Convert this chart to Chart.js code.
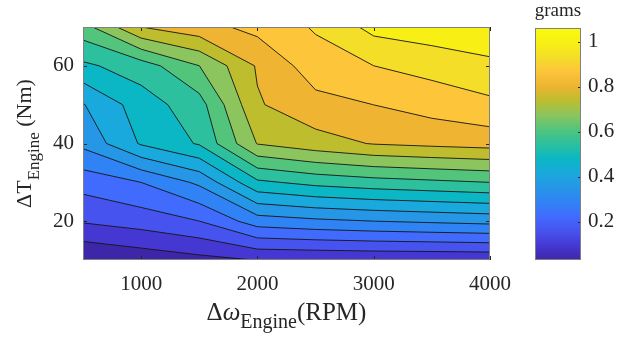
<!DOCTYPE html>
<html>
<head>
<meta charset="utf-8">
<script src="https://cdn.jsdelivr.net/npm/chart.js@4.4.1/dist/chart.umd.min.js"></script>
<style>
html,body{margin:0;padding:0;background:#fff;}
#wrap{position:relative;width:618px;height:339px;}
#main{position:absolute;left:0;top:0;}
#cbar{position:absolute;left:500px;top:0;}
</style>
</head>
<body>
<div id="wrap">
<canvas id="main" width="618" height="339"></canvas>
<canvas id="cbar" width="118" height="339"></canvas>
</div>
<script>
// grid of the measured map
const rpm = [500, 1000, 1500, 2000, 2500, 3000, 3500, 4000];
const torque = [10, 20, 30, 40, 50, 60, 70];
// grams, one row per torque value (10 Nm first), one column per rpm
const grams = [
  [0.031, 0.054, 0.076, 0.097, 0.099, 0.102, 0.103, 0.105],
  [0.166, 0.189, 0.224, 0.321, 0.340, 0.353, 0.363, 0.373],
  [0.250, 0.289, 0.366, 0.534, 0.566, 0.585, 0.598, 0.611],
  [0.369, 0.489, 0.553, 0.743, 0.779, 0.808, 0.820, 0.830],
  [0.414, 0.514, 0.585, 0.798, 0.847, 0.869, 0.895, 0.920],
  [0.534, 0.579, 0.675, 0.811, 0.904, 0.933, 0.956, 0.978],
  [0.650, 0.804, 0.846, 0.888, 0.940, 1.017, 1.036, 1.062]
];
const xTicks = [1000, 2000, 3000, 4000];
const yTicks = [20, 40, 60];
const cbTicks = [0.2, 0.4, 0.6, 0.8, 1];
const nLevels = 15;

// parula-like colours, one per filled band (lower level of the band), last one = top of the colorbar
const parula = ['#3e26a8','#4538d2','#4753ef','#416bfc','#3083f5','#2696e7','#19a9dc','#0bb7c4',
                '#2cc09e','#52c47c','#8cc55e','#bdbd2e','#eeb432','#fcc53a','#f4de28','#f8f014','#f9fb0e'];

const zmin = Math.min(...grams.flat());
const zmax = Math.max(...grams.flat());
const levels = [];
for(let k=1;k<=nLevels;k++) levels.push(zmin + k*(zmax-zmin)/(nLevels+1));

const serif = '"Liberation Serif", "Times New Roman", serif';
const textCol = '#262626';

function clipPoly(poly, L){
  const out=[];
  for(let i=0;i<poly.length;i++){
    const a=poly[i], b=poly[(i+1)%poly.length];
    const ain=a.v>=L, bin=b.v>=L;
    if(ain) out.push(a);
    if(ain!==bin){
      const t=(L-a.v)/(b.v-a.v);
      out.push({x:a.x+t*(b.x-a.x), y:a.y+t*(b.y-a.y), v:L, cut:true});
    }
  }
  return out;
}

const contourPlugin = {
  id:'contourf',
  beforeDatasetsDraw(chart){
    const {ctx, chartArea:a, scales:{x, y}} = chart;
    const P=(i,j)=>({x:rpm[i], y:torque[j], v:grams[j][i]});
    ctx.save();
    ctx.beginPath(); ctx.rect(a.left, a.top, a.right-a.left, a.bottom-a.top); ctx.clip();
    const x0=x.getPixelForValue(rpm[0]), x1=x.getPixelForValue(rpm[rpm.length-1]);
    const y0=y.getPixelForValue(torque[torque.length-1]), y1=y.getPixelForValue(torque[0]);
    ctx.fillStyle=parula[0];
    ctx.fillRect(x0, y0, x1-x0, y1-y0);
    const segs=[];
    levels.forEach((L,k)=>{
      ctx.beginPath();
      for(let j=0;j<torque.length-1;j++){
        for(let i=0;i<rpm.length-1;i++){
          const poly=clipPoly([P(i,j),P(i+1,j),P(i+1,j+1),P(i,j+1)], L);
          if(poly.length<3) continue;
          poly.forEach((p,n)=>{
            const px=x.getPixelForValue(p.x), py=y.getPixelForValue(p.y);
            if(n) ctx.lineTo(px,py); else ctx.moveTo(px,py);
            const q=poly[(n+1)%poly.length];
            if(p.cut && q.cut) segs.push([p,q]);
          });
          ctx.closePath();
        }
      }
      ctx.fillStyle=parula[k+1];
      ctx.fill();
    });
    ctx.beginPath();
    segs.forEach(([p,q])=>{
      ctx.moveTo(x.getPixelForValue(p.x), y.getPixelForValue(p.y));
      ctx.lineTo(x.getPixelForValue(q.x), y.getPixelForValue(q.y));
    });
    ctx.strokeStyle='#151515';
    ctx.lineWidth=0.9;
    ctx.lineJoin='round';
    ctx.stroke();
    ctx.restore();
  }
};

function drawParts(ctx, parts){
  let w=0;
  parts.forEach(p=>{ctx.font=p.f; p.w=ctx.measureText(p.t).width; w+=p.w;});
  let cx=-w/2;
  ctx.textBaseline='alphabetic'; ctx.textAlign='left'; ctx.fillStyle=textCol;
  parts.forEach(p=>{ctx.font=p.f; ctx.fillText(p.t, cx, p.dy); cx+=p.w;});
}

const frameMain = {
  id:'frameMain',
  afterDraw(chart){
    const {ctx, chartArea:a, scales:{x, y}} = chart;
    ctx.save();
    ctx.strokeStyle='#262626'; ctx.lineWidth=1;
    ctx.beginPath();
    xTicks.forEach(v=>{
      const px=Math.round(x.getPixelForValue(v))+0.5;
      ctx.moveTo(px,a.bottom); ctx.lineTo(px,a.bottom-4);
      ctx.moveTo(px,a.top); ctx.lineTo(px,a.top+4);
    });
    yTicks.forEach(v=>{
      const py=Math.round(y.getPixelForValue(v))+0.5;
      ctx.moveTo(a.left,py); ctx.lineTo(a.left+4,py);
      ctx.moveTo(a.right,py); ctx.lineTo(a.right-4,py);
    });
    ctx.stroke();
    ctx.strokeStyle='#808080';
    ctx.strokeRect(a.left+0.5, a.top+0.5, a.right-a.left-1, a.bottom-a.top-1);
    // x title
    ctx.save();
    ctx.translate((a.left+a.right)/2, 320);
    drawParts(ctx,[
      {t:'\u0394', f:'25px '+serif, dy:0},
      {t:'\u03c9', f:'italic 25px '+serif, dy:0},
      {t:'Engine', f:'20px '+serif, dy:8},
      {t:'(RPM)', f:'25px '+serif, dy:0}
    ]);
    ctx.restore();
    // y title
    ctx.save();
    ctx.translate(31, (a.top+a.bottom)/2);
    ctx.rotate(-Math.PI/2);
    drawParts(ctx,[
      {t:'\u0394T', f:'22px '+serif, dy:0},
      {t:'Engine', f:'17px '+serif, dy:8},
      {t:' (Nm)', f:'22px '+serif, dy:0}
    ]);
    ctx.restore();
    ctx.restore();
  }
};

new Chart(document.getElementById('main'), {
  type:'scatter',
  data:{datasets:[{data:[], pointRadius:0}]},
  options:{
    responsive:false, animation:false, events:[],
    layout:{padding:{left:0, right:128, top:27, bottom:0}},
    plugins:{legend:{display:false}, tooltip:{enabled:false}},
    scales:{
      x:{type:'linear', min:rpm[0], max:rpm[rpm.length-1],
         grid:{display:false, drawTicks:false}, border:{display:false},
         afterBuildTicks:s=>{s.ticks=xTicks.map(v=>({value:v}));},
         afterFit:s=>{s.height=79;},
         ticks:{font:{family:serif, size:21}, color:textCol, padding:12, maxRotation:0, autoSkip:false,
                callback:v=>String(v)}},
      y:{type:'linear', min:torque[0], max:torque[torque.length-1],
         grid:{display:false, drawTicks:false}, border:{display:false},
         afterBuildTicks:s=>{s.ticks=yTicks.map(v=>({value:v}));},
         afterFit:s=>{s.width=83;},
         ticks:{font:{family:serif, size:21}, color:textCol, padding:9, callback:v=>String(v)}}
    }
  },
  plugins:[contourPlugin, frameMain]
});

// colorbar
function barGradient(chart){
  const a=chart.chartArea, y=chart.scales.y;
  if(!a || !y) return parula[8];
  const g=chart.ctx.createLinearGradient(0, y.getPixelForValue(zmax), 0, y.getPixelForValue(zmin));
  parula.forEach((c,k)=>g.addColorStop(1-k/(parula.length-1), c));
  return g;
}

const frameBar = {
  id:'frameBar',
  afterDraw(chart){
    const {ctx, chartArea:a, scales:{y}} = chart;
    ctx.save();
    ctx.strokeStyle='#262626'; ctx.lineWidth=1;
    ctx.beginPath();
    cbTicks.forEach(v=>{
      const py=Math.round(y.getPixelForValue(v))+0.5;
      ctx.moveTo(a.right,py); ctx.lineTo(a.right-3,py);
    });
    ctx.stroke();
    ctx.strokeStyle='#808080';
    ctx.strokeRect(a.left+0.5, a.top+0.5, a.right-a.left-1, a.bottom-a.top-1);
    ctx.fillStyle=textCol; ctx.font='19px '+serif;
    ctx.textAlign='center'; ctx.textBaseline='alphabetic';
    ctx.fillText('grams', (a.left+a.right)/2, 16);
    ctx.restore();
  }
};

new Chart(document.getElementById('cbar'), {
  type:'bar',
  data:{labels:['grams'], datasets:[{data:[[zmin, zmax]], backgroundColor:c=>barGradient(c.chart),
        borderWidth:0, barPercentage:1, categoryPercentage:1}]},
  options:{
    responsive:false, animation:false, events:[],
    layout:{padding:{left:35, right:0, top:28, bottom:79}},
    plugins:{legend:{display:false}, tooltip:{enabled:false}},
    scales:{
      x:{display:false},
      y:{position:'right', min:zmin, max:zmax,
         grid:{display:false, drawTicks:false}, border:{display:false},
         afterBuildTicks:s=>{s.ticks=cbTicks.map(v=>({value:v}));},
         afterFit:s=>{s.width=37;},
         ticks:{font:{family:serif, size:21}, color:textCol, padding:7, callback:v=>String(Math.round(v*10)/10)}}
    }
  },
  plugins:[frameBar]
});
</script>
</body>
</html>
